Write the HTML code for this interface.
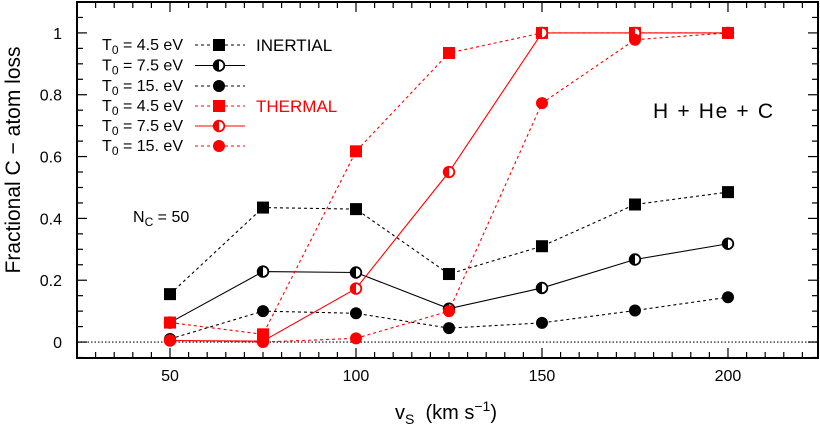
<!DOCTYPE html>
<html><head><meta charset="utf-8"><style>
html,body{margin:0;padding:0;background:#fff}
svg{display:block;font-family:"Liberation Sans",Helvetica,Arial,sans-serif}
</style></head><body>
<svg id="chart" width="820" height="430" viewBox="0 0 820 430" xmlns="http://www.w3.org/2000/svg">
<g id="axes"></g>
<g id="series"></g>
<g id="legend"></g>
<text x="653" y="118" font-size="21" textLength="120">H + He + C</text>
<text x="133" y="222" font-size="16">N<tspan font-size="12" dy="4">C</tspan><tspan dy="-4"> = 50</tspan></text>
<text transform="translate(20,160) rotate(-90)" text-anchor="middle" font-size="21">Fractional C − atom loss</text>
<text x="446" y="419" text-anchor="middle" font-size="20">v<tspan font-size="14" dy="5">S</tspan><tspan dy="-5" xml:space="preserve">  (km s</tspan><tspan font-size="14" dy="-8">−1</tspan><tspan dy="8">)</tspan></text>
</svg>
<script>
const categories=[50,75,100,125,150,175,200];
const inertial45=[0.155,0.435,0.43,0.22,0.31,0.445,0.485];
const inertial75=[0.063,0.228,0.225,0.108,0.175,0.267,0.318];
const inertial15=[0.01,0.1,0.093,0.045,0.062,0.102,0.145];
const thermal45=[0.063,0.025,0.617,0.935,1.0,1.0,1.0];
const thermal75=[0.005,0.003,0.173,0.55,1.0,1.0,1.0];
const thermal15=[0.005,0.0,0.012,0.1,0.773,0.978,1.0];
const xTicks=[50,100,150,200];
const yTicks=[0,0.2,0.4,0.6,0.8,1];
const yTickLabels=["0","0.2","0.4","0.6","0.8","1"];
const legendLabels=["4.5","7.5","15."];

const NS="http://www.w3.org/2000/svg";
const L=77,R=818,T=2,B=358;
const xMin=25,xMax=224.2,yMin=-0.0516,yMax=1.1;
const sx=v=>L+(v-xMin)/(xMax-xMin)*(R-L);
const sy=v=>B-(v-yMin)/(yMax-yMin)*(B-T);
function mk(tag,attrs,parent){const e=document.createElementNS(NS,tag);for(const k in attrs)e.setAttribute(k,attrs[k]);parent.appendChild(e);return e;}
const axes=document.getElementById('axes');
let z=mk('line',{x1:L,x2:R,y1:sy(0),y2:sy(0),stroke:'#333','stroke-width':1.3,'stroke-dasharray':'1.5,2'},axes);


let fr=mk('rect',{x:L,y:T,width:R-L,height:B-T,fill:'none',stroke:'#000','stroke-width':2},axes);


for(let v=30;v<=220;v+=5){
  const major=v%50===0;const len=major?10:6;
  mk('line',{x1:sx(v),x2:sx(v),y1:B,y2:B-len,stroke:'#000','stroke-width':1.2},axes);
  mk('line',{x1:sx(v),x2:sx(v),y1:T,y2:T+len,stroke:'#000','stroke-width':1.2},axes);
}
xTicks.forEach(v=>{
  const t=mk('text',{x:sx(v),y:B+23,'text-anchor':'middle','font-size':16},axes);t.textContent=v;
  
  
});
for(let i=-1;i<=21;i++){
  const v=i*0.05;if(v<yMin||v>yMax)continue;
  const major=i%4===0;const len=major?10:6;
  mk('line',{x1:L,x2:L+len,y1:sy(v),y2:sy(v),stroke:'#000','stroke-width':1.2},axes);
  mk('line',{x1:R,x2:R-len,y1:sy(v),y2:sy(v),stroke:'#000','stroke-width':1.2},axes);
}
yTicks.forEach((v,i)=>{
  const t=mk('text',{x:L-15,y:sy(v)+6,'text-anchor':'end','font-size':16},axes);t.textContent=yTickLabels[i];
  
  
});

function marker(g,type,color,x,y){
  if(type==='sq'){mk('rect',{x:x-6,y:y-6,width:12,height:12,fill:color},g);}
  else if(type==='dot'){mk('circle',{cx:x,cy:y,r:6,fill:color},g);}
  else{mk('circle',{cx:x,cy:y,r:5.3,fill:'#fff',stroke:color,'stroke-width':1.8},g);
    mk('path',{d:`M${x},${y-5.3} A5.3,5.3 0 0 0 ${x},${y+5.3} Z`,fill:color},g);}
}
const defs=[
 {name:'inertial-4.5',data:inertial45,color:'#000',type:'sq',dash:'3,3'},
 {name:'inertial-7.5',data:inertial75,color:'#000',type:'half',dash:''},
 {name:'inertial-15',data:inertial15,color:'#000',type:'dot',dash:'3,3'},
 {name:'thermal-4.5',data:thermal45,color:'#f00',type:'sq',dash:'3,3'},
 {name:'thermal-7.5',data:thermal75,color:'#f00',type:'half',dash:''},
 {name:'thermal-15',data:thermal15,color:'#f00',type:'dot',dash:'3,3'}
];
const sg=document.getElementById('series');
const lg=document.getElementById('legend');
const rowY=[45,65.5,86,106,126,146];
defs.forEach((d,k)=>{
  const g=mk('g',{},sg);
  
  
  const pts=categories.map((c,i)=>sx(c)+','+sy(d.data[i])).join(' ');
  const pl=mk('polyline',{points:pts,fill:'none',stroke:d.color,'stroke-width':1.1,'stroke-dasharray':d.dash||'none'},g);
  
  
  categories.forEach((c,i)=>marker(g,d.type,d.color,sx(c),sy(d.data[i])));
  const le=mk('g',{},lg);
  
  
  const y=rowY[k];
  const t=mk('text',{x:183,y:y+5,'text-anchor':'end','font-size':16},le);
  t.innerHTML='T<tspan font-size="12" dy="4">0</tspan><tspan dy="-4"> = '+legendLabels[k%3]+' eV</tspan>';
  mk('line',{x1:195,x2:245,y1:y,y2:y,stroke:d.color,'stroke-width':1.1,'stroke-dasharray':d.dash||'none'},le);
  marker(le,d.type,d.color,219,y);
});
let t1=mk('text',{x:256,y:51,'font-size':17},lg);t1.textContent='INERTIAL';


let t2=mk('text',{x:256,y:112,'font-size':17,fill:'#f00'},lg);t2.textContent='THERMAL';


</script>
</body></html>
